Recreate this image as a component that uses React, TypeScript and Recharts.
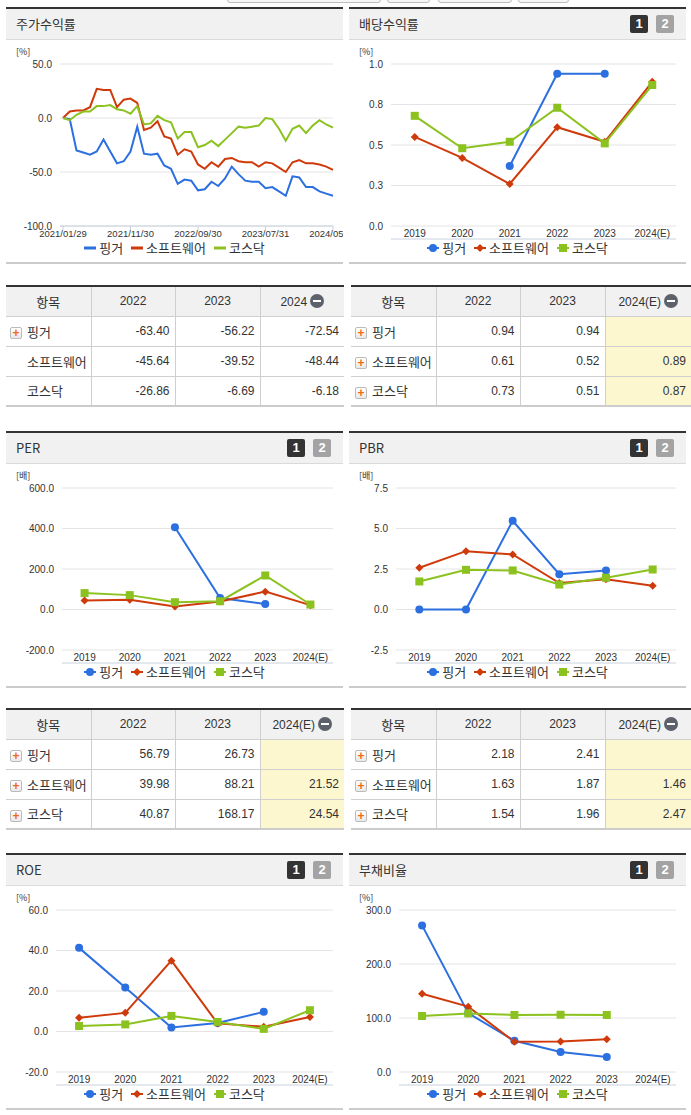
import React from "react";
import {
  LineChart,
  ComposedChart,
  Line,
  XAxis,
  YAxis,
  CartesianGrid,
  Legend,
} from "recharts";

const BLUE = "#2b6fe0";
const RED = "#cf3a0b";
const GREEN = "#8cc21f";
const AXIS = "#c6d2de";
const GRID = "#e4e4e4";
const TEXT = "#333";

const FONT_KR = '"Noto Sans CJK KR", "Noto Sans", sans-serif';
const FONT_NUM = '"Liberation Sans Narrow", "Liberation Sans", Arial, sans-serif';

const seriesNames = ["핑거", "소프트웨어", "코스닥"];

// 주가수익률 (월말 기준, %)
const returnDates = [
  "2021/01/29", "2021/02/26", "2021/03/31", "2021/04/30", "2021/05/31", "2021/06/30",
  "2021/07/30", "2021/08/31", "2021/09/30", "2021/10/29", "2021/11/30", "2021/12/30",
  "2022/01/28", "2022/02/28", "2022/03/31", "2022/04/29", "2022/05/31", "2022/06/30",
  "2022/07/29", "2022/08/31", "2022/09/30", "2022/10/31", "2022/11/30", "2022/12/29",
  "2023/01/31", "2023/02/28", "2023/03/31", "2023/04/28", "2023/05/31", "2023/06/30",
  "2023/07/31", "2023/08/31", "2023/09/27", "2023/10/31", "2023/11/30", "2023/12/28",
  "2024/01/31", "2024/02/29", "2024/03/29", "2024/04/30", "2024/05/31",
];
const returnTicks = ["2021/01/29", "2021/11/30", "2022/09/30", "2023/07/31", "2024/05/31"];
const returnFinger = [
  0, -1, -30, -32, -34, -31, -20, -31, -42, -40, -31, -8, -33, -34, -33, -44, -47, -61, -57, -58,
  -67, -66, -59, -63, -56, -45, -52, -58, -59, -59, -65, -64, -68, -72, -54, -55, -64, -64, -68, -70, -72,
];
const returnSoftware = [
  0, 6, 7, 7, 10, 27, 26, 26, 10, 17, 18, 14, -11, -9, -3, -17, -19, -34, -29, -31,
  -43, -47, -41, -45, -38, -37, -40, -41, -41, -45, -41, -42, -46, -50, -41, -39, -42, -42, -43, -45, -48,
];
const returnKosdaq = [
  0, -2, 3, 6, 6, 11, 11, 12, 8, 7, 4, 11, -6, -5, 2, -2, -4, -19, -13, -13,
  -27, -25, -21, -26, -20, -14, -8, -9, -8, -7, 0, -1, -10, -21, -10, -7, -14, -7, -2, -6, -9,
];

// 연간 지표
const years = ["2019", "2020", "2021", "2022", "2023", "2024(E)"];

const dividendFinger = [null, null, 0.37, 0.94, 0.94, null];
const dividendSoftware = [0.55, 0.42, 0.26, 0.61, 0.52, 0.89];
const dividendKosdaq = [0.68, 0.48, 0.52, 0.73, 0.51, 0.87];

const perFinger = [null, null, 406, 56.79, 26.73, null];
const perSoftware = [45, 48, 15, 39.98, 88.21, 21.52];
const perKosdaq = [81, 71, 36, 40.87, 168.17, 24.54];

const pbrFinger = [0, 0, 5.48, 2.18, 2.41, null];
const pbrSoftware = [2.58, 3.6, 3.4, 1.63, 1.87, 1.46];
const pbrKosdaq = [1.73, 2.45, 2.41, 1.54, 1.96, 2.47];

const roeFinger = [41.3, 21.7, 2.0, 4.2, 9.7, null];
const roeSoftware = [6.8, 9.2, 35, 4.0, 2.3, 7.2];
const roeKosdaq = [2.7, 3.5, 7.7, 4.7, 1.3, 10.5];

const debtFinger = [271.5, 109, 57.7, 37.2, 27.9, null];
const debtSoftware = [145, 121, 55.8, 56.4, 60.8, null];
const debtKosdaq = [103.7, 108.5, 105.6, 106, 105.6, null];

// 표
const returnTableYears = ["2022", "2023", "2024"];
const returnTableFinger = [-63.4, -56.22, -72.54];
const returnTableSoftware = [-45.64, -39.52, -48.44];
const returnTableKosdaq = [-26.86, -6.69, -6.18];

const estTableYears = ["2022", "2023", "2024(E)"];
const dividendTableFinger = [0.94, 0.94, null];
const dividendTableSoftware = [0.61, 0.52, 0.89];
const dividendTableKosdaq = [0.73, 0.51, 0.87];

const perTableFinger = [56.79, 26.73, null];
const perTableSoftware = [39.98, 88.21, 21.52];
const perTableKosdaq = [40.87, 168.17, 24.54];

const pbrTableFinger = [2.18, 2.41, null];
const pbrTableSoftware = [1.63, 1.87, 1.46];
const pbrTableKosdaq = [1.54, 1.96, 2.47];

const PANEL_W = 337;
const CHART_H = 222;

const tickStyle = { fontSize: 10, fill: TEXT, fontFamily: FONT_NUM };

const legendOrder = (item: any) => seriesNames.indexOf(item.value);

function circleDot(color: string) {
  return (p: any) =>
    p.cx == null || p.cy == null || p.value == null ? (
      <g key={`c-${p.index}`} />
    ) : (
      <circle key={`c-${p.index}`} cx={p.cx} cy={p.cy} r={4} fill={color} />
    );
}

function diamondDot(color: string) {
  return (p: any) =>
    p.cx == null || p.cy == null || p.value == null ? (
      <g key={`d-${p.index}`} />
    ) : (
      <path
        key={`d-${p.index}`}
        d={`M${p.cx},${p.cy - 4}L${p.cx + 4},${p.cy}L${p.cx},${p.cy + 4}L${p.cx - 4},${p.cy}Z`}
        fill={color}
      />
    );
}

function squareDot(color: string) {
  return (p: any) =>
    p.cx == null || p.cy == null || p.value == null ? (
      <g key={`s-${p.index}`} />
    ) : (
      <rect key={`s-${p.index}`} x={p.cx - 4} y={p.cy - 4} width={8} height={8} fill={color} />
    );
}

function LegendIcon({ kind, color }: { kind: string; color: string }) {
  return (
    <svg width={12} height={10} style={{ display: "block" }}>
      <line x1={0} y1={5} x2={12} y2={5} stroke={color} strokeWidth={2} />
      {kind === "circle" && <circle cx={6} cy={5} r={4} fill={color} />}
      {kind === "diamond" && <path d="M6,1L10,5L6,9L2,5Z" fill={color} />}
      {kind === "square" && <rect x={2} y={1} width={8} height={8} fill={color} />}
    </svg>
  );
}

function makeLegend(markers: boolean) {
  return (props: any) => {
    const items = [...(props.payload || [])].sort(
      (a: any, b: any) => legendOrder(a) - legendOrder(b)
    );
    return (
      <div
        style={{
          display: "flex",
          justifyContent: "center",
          gap: 8,
          height: 16,
          lineHeight: "16px",
          fontFamily: FONT_KR,
          fontSize: 13,
          color: TEXT,
        }}
      >
        {items.map((e: any, i: number) => (
          <div key={i} style={{ display: "flex", alignItems: "center", gap: 3 }}>
            {markers ? (
              <LegendIcon kind={e.type} color={e.color} />
            ) : (
              <svg width={12} height={10} style={{ display: "block" }}>
                <line x1={0} y1={5} x2={12} y2={5} stroke={e.color} strokeWidth={3} />
              </svg>
            )}
            <span>{e.value}</span>
          </div>
        ))}
      </div>
    );
  };
}

function Pager() {
  const box = (bg: string): React.CSSProperties => ({
    width: 18,
    height: 18,
    background: bg,
    color: "#fff",
    borderRadius: 2,
    fontFamily: '"Liberation Sans", Arial, sans-serif',
    fontWeight: 700,
    fontSize: 13,
    lineHeight: "18px",
    textAlign: "center",
  });
  return (
    <div style={{ position: "absolute", right: 12, top: 6, display: "flex", gap: 8 }}>
      <div style={box("#333")}>1</div>
      <div style={box("#a3a3a3")}>2</div>
    </div>
  );
}

function Panel({
  left,
  top,
  title,
  unit,
  pager,
  children,
}: {
  left: number;
  top: number;
  title: string;
  unit: string;
  pager?: boolean;
  children: React.ReactNode;
}) {
  return (
    <div
      style={{
        position: "absolute",
        left,
        top,
        width: PANEL_W,
        borderTop: "2px solid #333",
        borderBottom: "2px solid #ccc",
        background: "#fff",
        overflow: "hidden",
      }}
    >
      <div
        style={{
          position: "relative",
          height: 30,
          background: "#f1f1f1",
          borderBottom: "1px solid #dadada",
          fontFamily: FONT_KR,
          fontSize: 13,
          color: TEXT,
          lineHeight: "30px",
          paddingLeft: 10,
        }}
      >
        {title}
        {pager && <Pager />}
      </div>
      <div style={{ position: "relative", width: PANEL_W, height: CHART_H }}>
        <div
          style={{
            position: "absolute",
            left: 10,
            top: 6,
            fontSize: 9,
            fontFamily: FONT_KR,
            color: TEXT,
            lineHeight: "12px",
          }}
        >
          {unit}
        </div>
        {children}
      </div>
    </div>
  );
}

function ReturnChart() {
  const rows = returnDates.map((d, i) => ({
    date: d,
    finger: returnFinger[i],
    software: returnSoftware[i],
    kosdaq: returnKosdaq[i],
  }));
  return (
    <LineChart
      width={PANEL_W}
      height={CHART_H}
      data={rows}
      margin={{ top: 24, right: 10, bottom: 6, left: 0 }}
    >
      <CartesianGrid vertical={false} stroke={GRID} />
      <XAxis
        dataKey="date"
        ticks={returnTicks}
        interval={0}
        padding={{ left: 3, right: 0 }}
        height={14}
        tickSize={4}
        tickMargin={0}
        tickLine={{ stroke: AXIS }}
        axisLine={{ stroke: AXIS }}
        tick={{ ...tickStyle, fontSize: 9.5 }}
      />
      <YAxis
        domain={[-100, 50]}
        ticks={[-100, -50, 0, 50]}
        interval={0}
        width={54}
        axisLine={false}
        tickLine={false}
        tick={tickStyle}
        tickFormatter={(v: number) => v.toFixed(1)}
      />
      <Legend content={makeLegend(false)} itemSorter={legendOrder} wrapperStyle={{ left: 0, width: PANEL_W }} />
      <Line dataKey="finger" name={seriesNames[0]} stroke={BLUE} strokeWidth={2} dot={false} isAnimationActive={false} />
      <Line dataKey="software" name={seriesNames[1]} stroke={RED} strokeWidth={2} dot={false} isAnimationActive={false} />
      <Line dataKey="kosdaq" name={seriesNames[2]} stroke={GREEN} strokeWidth={2} dot={false} isAnimationActive={false} />
    </LineChart>
  );
}

function AnnualChart({
  finger,
  software,
  kosdaq,
  domain,
  ticks,
  yWidth,
}: {
  finger: (number | null)[];
  software: (number | null)[];
  kosdaq: (number | null)[];
  domain: [number, number];
  ticks: number[];
  yWidth: number;
}) {
  const rows = years.map((y, i) => ({
    year: y,
    finger: finger[i],
    software: software[i],
    kosdaq: kosdaq[i],
  }));
  const edges = years.map((_, i) => i).concat([years.length]);
  return (
    <ComposedChart
      width={PANEL_W}
      height={CHART_H}
      data={rows}
      margin={{ top: 24, right: 10, bottom: 6, left: 0 }}
    >
      <CartesianGrid vertical={false} stroke={GRID} />
      <XAxis
        xAxisId="edge"
        type="number"
        domain={[0, years.length]}
        ticks={edges}
        allowDataOverflow
        height={1}
        tick={false}
        tickSize={5}
        tickLine={{ stroke: AXIS }}
        axisLine={{ stroke: AXIS }}
      />
      <XAxis
        dataKey="year"
        scale="band"
        interval={0}
        height={13}
        tickSize={4}
        tickMargin={0}
        tickLine={false}
        axisLine={false}
        tick={tickStyle}
      />
      <YAxis
        domain={domain}
        ticks={ticks}
        interval={0}
        width={yWidth}
        axisLine={false}
        tickLine={false}
        tick={tickStyle}
        tickFormatter={(v: number) => v.toFixed(1)}
      />
      <Legend content={makeLegend(true)} itemSorter={legendOrder} wrapperStyle={{ left: 0, width: PANEL_W }} />
      <Line dataKey="finger" name={seriesNames[0]} stroke={BLUE} strokeWidth={2} dot={circleDot(BLUE)} legendType="circle" isAnimationActive={false} />
      <Line dataKey="software" name={seriesNames[1]} stroke={RED} strokeWidth={2} dot={diamondDot(RED)} legendType="diamond" isAnimationActive={false} />
      <Line dataKey="kosdaq" name={seriesNames[2]} stroke={GREEN} strokeWidth={2} dot={squareDot(GREEN)} legendType="square" isAnimationActive={false} />
    </ComposedChart>
  );
}

function PlusIcon() {
  return (
    <span
      style={{
        position: "absolute",
        left: 4,
        top: 10,
        width: 10,
        height: 10,
        border: "1px solid #bbb",
        borderRadius: 2,
        background: "linear-gradient(#fff, #e9e9e9)",
        color: "#f26a10",
        fontFamily: '"Liberation Sans", Arial, sans-serif',
        fontWeight: 700,
        fontSize: 12,
        lineHeight: "10px",
        textAlign: "center",
      }}
    >
      +
    </span>
  );
}

function MinusIcon() {
  return (
    <span
      style={{
        display: "inline-block",
        position: "relative",
        width: 14,
        height: 14,
        borderRadius: 7,
        background: "#5c616b",
        marginLeft: 3,
        verticalAlign: "-2px",
      }}
    >
      <span
        style={{ position: "absolute", left: 3, top: 6, width: 8, height: 2, background: "#fff" }}
      />
    </span>
  );
}

function DataTable({
  left,
  top,
  colWidths,
  yearLabels,
  finger,
  software,
  kosdaq,
  icons,
  highlight,
}: {
  left: number;
  top: number;
  colWidths: number[];
  yearLabels: string[];
  finger: (number | null)[];
  software: (number | null)[];
  kosdaq: (number | null)[];
  icons: boolean[];
  highlight: boolean;
}) {
  const total = colWidths.reduce((a, b) => a + b, 0);
  const cellBorder = "1px solid #cfcfcf";
  const rows = [finger, software, kosdaq];
  return (
    <table
      style={{
        position: "absolute",
        left,
        top,
        width: total,
        borderCollapse: "collapse",
        tableLayout: "fixed",
        borderTop: "2px solid #333",
        borderBottom: "2px solid #ccc",
        color: TEXT,
      }}
    >
      <colgroup>
        {colWidths.map((w, i) => (
          <col key={i} style={{ width: w }} />
        ))}
      </colgroup>
      <thead>
        <tr style={{ height: 30, background: "#f1f1f1" }}>
          <th
            style={{
              fontWeight: 400,
              fontFamily: FONT_KR,
              fontSize: 13,
              borderRight: cellBorder,
              borderBottom: cellBorder,
              padding: 0,
            }}
          >
            항목
          </th>
          {yearLabels.map((y, i) => (
            <th
              key={y}
              style={{
                fontWeight: 400,
                fontFamily: FONT_NUM,
                fontSize: 12,
                borderLeft: cellBorder,
                borderBottom: cellBorder,
                padding: 0,
                whiteSpace: "nowrap",
              }}
            >
              {y}
              {i === yearLabels.length - 1 && <MinusIcon />}
            </th>
          ))}
        </tr>
      </thead>
      <tbody>
        {rows.map((vals, r) => (
          <tr key={r} style={{ height: 30 }}>
            <td
              style={{
                position: "relative",
                fontFamily: FONT_KR,
                fontSize: 13,
                paddingLeft: 21,
                borderTop: cellBorder,
                borderRight: cellBorder,
                whiteSpace: "nowrap",
              }}
            >
              {icons[r] && <PlusIcon />}
              {seriesNames[r]}
            </td>
            {vals.map((v, c) => (
              <td
                key={c}
                style={{
                  fontFamily: FONT_NUM,
                  fontSize: 12,
                  textAlign: "right",
                  paddingRight: 5,
                  borderTop: cellBorder,
                  borderLeft: cellBorder,
                  background: highlight && c === vals.length - 1 ? "#fdf7d0" : undefined,
                }}
              >
                {v == null ? "" : v.toFixed(2)}
              </td>
            ))}
          </tr>
        ))}
      </tbody>
    </table>
  );
}

function TopTabs() {
  const tab = (left: number, width: number): React.CSSProperties => ({
    position: "absolute",
    left,
    top: -20,
    width,
    height: 21,
    border: "1px solid #bdbdbd",
    borderRadius: 3,
    background: "#f6f6f6",
  });
  return (
    <>
      <div style={tab(227, 152)} />
      <div style={tab(387, 41)} />
      <div style={tab(438, 72)} />
      <div style={tab(518, 49)} />
    </>
  );
}

export default function App() {
  const L = 6;
  const R = 349;
  return (
    <div
      style={{
        position: "absolute",
        left: 0,
        top: 0,
        width: 691,
        height: 1115,
        background: "#fff",
        overflow: "hidden",
        fontFamily: FONT_KR,
      }}
    >
      <TopTabs />

      <Panel left={L} top={7} title="주가수익률" unit="[%]">
        <ReturnChart />
      </Panel>
      <Panel left={R} top={7} title="배당수익률" unit="[%]" pager>
        <AnnualChart
          finger={dividendFinger}
          software={dividendSoftware}
          kosdaq={dividendKosdaq}
          domain={[0, 1]}
          ticks={[0, 0.25, 0.5, 0.75, 1]}
          yWidth={42}
        />
      </Panel>

      <DataTable
        left={L}
        top={285}
        colWidths={[85, 84, 85, 84]}
        yearLabels={returnTableYears}
        finger={returnTableFinger}
        software={returnTableSoftware}
        kosdaq={returnTableKosdaq}
        icons={[true, false, false]}
        highlight={false}
      />
      <DataTable
        left={351}
        top={285}
        colWidths={[85, 84, 85, 86]}
        yearLabels={estTableYears}
        finger={dividendTableFinger}
        software={dividendTableSoftware}
        kosdaq={dividendTableKosdaq}
        icons={[true, true, true]}
        highlight
      />

      <Panel left={L} top={431} title="PER" unit="[배]" pager>
        <AnnualChart
          finger={perFinger}
          software={perSoftware}
          kosdaq={perKosdaq}
          domain={[-200, 600]}
          ticks={[-200, 0, 200, 400, 600]}
          yWidth={56}
        />
      </Panel>
      <Panel left={R} top={431} title="PBR" unit="[배]" pager>
        <AnnualChart
          finger={pbrFinger}
          software={pbrSoftware}
          kosdaq={pbrKosdaq}
          domain={[-2.5, 7.5]}
          ticks={[-2.5, 0, 2.5, 5, 7.5]}
          yWidth={47}
        />
      </Panel>

      <DataTable
        left={L}
        top={708}
        colWidths={[85, 84, 85, 84]}
        yearLabels={estTableYears}
        finger={perTableFinger}
        software={perTableSoftware}
        kosdaq={perTableKosdaq}
        icons={[true, true, true]}
        highlight
      />
      <DataTable
        left={351}
        top={708}
        colWidths={[85, 84, 85, 86]}
        yearLabels={estTableYears}
        finger={pbrTableFinger}
        software={pbrTableSoftware}
        kosdaq={pbrTableKosdaq}
        icons={[true, true, true]}
        highlight
      />

      <Panel left={L} top={853} title="ROE" unit="[%]" pager>
        <AnnualChart
          finger={roeFinger}
          software={roeSoftware}
          kosdaq={roeKosdaq}
          domain={[-20, 60]}
          ticks={[-20, 0, 20, 40, 60]}
          yWidth={50}
        />
      </Panel>
      <Panel left={R} top={853} title="부채비율" unit="[%]" pager>
        <AnnualChart
          finger={debtFinger}
          software={debtSoftware}
          kosdaq={debtKosdaq}
          domain={[0, 300]}
          ticks={[0, 100, 200, 300]}
          yWidth={50}
        />
      </Panel>
    </div>
  );
}
